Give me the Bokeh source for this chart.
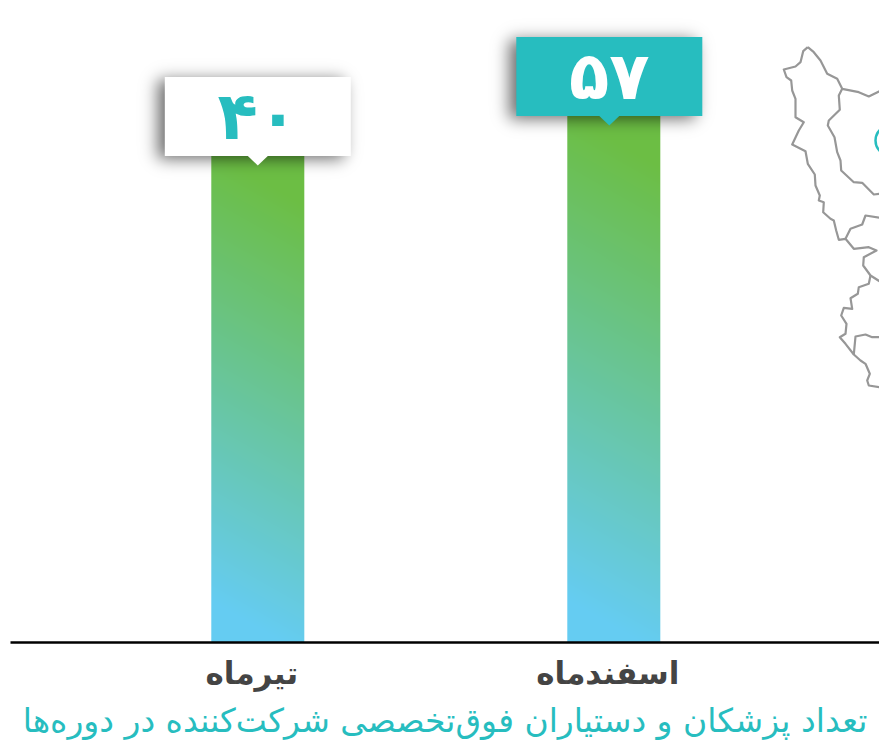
import numpy as np
from math import erf
from bokeh.plotting import figure
from bokeh.models import Range1d, FixedTicker, LinearAxis, Title
from bokeh.core.properties import value
from bokeh.embed import file_html
from bokeh.resources import INLINE

# data
periods = ["تیرماه", "اسفندماه"]
counts = [40, 57]
count_labels = ["۴۰", "۵۷"]
title_text = "تعداد پزشکان و دستیاران فوق‌تخصصی شرکت‌کننده در دوره‌ها"

# map outline, in the picture's own pixel coordinates
map_west_x = [807.3,802.7,800,795,783.3,786,790.7,791.7,795,795,803.3,798.3,791.7,805,807.3,814.3,815,819.3,818.3,823.3,822.7,830,833.3,835.7,838.3,845,853.3,868.3,876,863.3,862.7,870,879]
map_west_y = [46.7,50.7,61.7,66,69,76.7,80,90,98.3,116.7,121.7,130,144,150.7,163.3,174,185,195,200,201.7,211.7,218.3,220,230,239.3,238.3,248.3,246.7,250,256.7,265,275,280.7]
map_b1_x = [845,850,861.7,865,879]
map_b1_y = [238.3,228.3,224,215,217.3]
map_low_x = [870,868.3,858.3,857.3,850,851.7,843.3,840.7,846,845,839.3,845,853.3,860,865,869.3,866.7,868.3,879]
map_low_y = [275,283.3,286.7,293.3,297.7,308.3,307.3,315,323.3,333.3,336.7,343.3,354,360,363.3,373.3,380,385,386.7]
map_b2_x = [853.3,855,865,871.7,879]
map_b2_y = [354,336,334,336.7,336.7]
map_top_x = [807.3,813.3,820,826.7,836.7,841.7,858.3,868.3,879]
map_top_y = [46.7,51.7,60,73.3,78.3,88.3,91.7,96,90.7]
map_in_x = [841.7,838.3,839.3,828.3,827.3,834,836.7,840,840.7,853.3,861.7,873.3,879]
map_in_y = [88.3,95,109.3,120,125,136.7,151.7,160,170,181.7,182.3,194,193.3]

TEAL = "#27BDBF"
GREEN = np.array([108, 190, 68.0])
BLUE = np.array([101, 204, 242.0])

PX_X = 356.0
PX_Y = 40.0 / 17.0
LEFT, RIGHT, TOP, BOTTOM = 10, 879, 0, 642
y_top = 57 + (115.4 - TOP) / PX_Y
y_base = 40 - (BOTTOM - 155.4) / PX_Y
x0 = -(257.3 - LEFT) / PX_X
x1 = (RIGHT - 257.3) / PX_X

p = figure(width=879, height=744, output_backend="svg", toolbar_location=None,
           x_range=Range1d(x0, x1), y_range=Range1d(y_base, y_top),
           x_axis_location=None, y_axis_location=None,
           min_border_left=10, min_border_right=0, min_border_top=0, min_border_bottom=102,
           outline_line_color=None, background_fill_color="white", border_fill_color="white")
p.grid.visible = False
p.extra_x_ranges["px"] = Range1d(LEFT, RIGHT)
p.extra_y_ranges["px"] = Range1d(BOTTOM, TOP)

bar_w = 93 / PX_X
xs = np.arange(len(counts), dtype=float)
for xc, c in zip(xs, counts):
    h = int(round((c - y_base) * PX_Y))
    w = 93
    yy, xx = np.mgrid[0:h, 0:w]
    t = np.clip(((yy / h) + 0.10 * (xx / w - 0.5) * 526 / h - 0.03) / 0.92, 0, 1)
    img = np.zeros((h, w), dtype=np.uint32)
    v = img.view(dtype=np.uint8).reshape((h, w, 4))
    for k in range(3):
        v[:, :, k] = np.round(BLUE[k] + (GREEN[k] - BLUE[k]) * t)
    v[:, :, 3] = 255
    p.image_rgba(image=[img], x=xc - bar_w / 2, y=y_base, dw=bar_w, dh=c - y_base)

box_w = 186 / PX_X
box_h = 79 / PX_Y
tip_h = 9.5 / PX_Y
tip_w = 10 / PX_X
box_offset = [0.0, -4.5 / PX_X]
box_fill = ["white", TEAL]
text_fill = [TEAL, "white"]
vec_erf = np.vectorize(erf)


def shadow(cx, top):
    sig, pad = 8.0, 30
    W, H = 186 + 2 * pad, 79 + 2 * pad
    sx = np.arange(W) + 0.5 - pad
    sy = np.arange(H) + 0.5 - pad
    dx, dy = -7.0, -3.0
    ax = 0.5 * (vec_erf((sx - dx) / (sig * 2**.5)) - vec_erf((sx - dx - 186) / (sig * 2**.5)))
    ay = 0.5 * (vec_erf((sy - dy) / (sig * 2**.5)) - vec_erf((sy - dy - 79) / (sig * 2**.5)))
    a = np.outer(ay, ax) * 0.58
    img = np.zeros((H, W), dtype=np.uint32)
    v = img.view(dtype=np.uint8).reshape((H, W, 4))
    v[:, :, 3] = np.round(a * 255)
    p.image_rgba(image=[img], x=cx - box_w / 2 - pad / PX_X, y=top - pad / PX_Y,
                 dw=W / PX_X, dh=H / PX_Y)


for xc, c, off in zip(xs, counts, box_offset):
    shadow(xc + off, c)

for xc, c, off, fill, tf, lab in zip(xs, counts, box_offset, box_fill, text_fill, count_labels):
    cx = xc + off
    p.quad(left=cx - box_w / 2, right=cx + box_w / 2, bottom=c, top=c + box_h,
           fill_color=fill, line_color=None)
    p.patch([cx - tip_w, cx + tip_w, cx], [c + 0.01, c + 0.01, c - tip_h],
            fill_color=fill, line_color=None)
    p.text([cx], [c + box_h / 2], text=[lab], text_color=tf, text_font=value("DejaVu Sans"),
           text_font_style="bold", text_font_size="66px", text_align="center",
           text_baseline="middle")

for mx, my in [(map_west_x, map_west_y), (map_b1_x, map_b1_y), (map_low_x, map_low_y),
               (map_b2_x, map_b2_y), (map_top_x, map_top_y), (map_in_x, map_in_y)]:
    p.line(mx, my, x_range_name="px", y_range_name="px", line_color="#979797", line_width=2.2,
           line_join="round")
p.scatter([890], [140], x_range_name="px", y_range_name="px", size=30, fill_color=None,
          line_color=TEAL, line_width=2.5)

label_shift = -6 / PX_X
ax = LinearAxis(ticker=FixedTicker(ticks=[label_shift, 1 + label_shift]),
                major_label_overrides={label_shift: periods[0], 1 + label_shift: periods[1]})
ax.axis_line_color = "black"
ax.axis_line_width = 2.5
ax.major_tick_line_color = None
ax.minor_tick_line_color = None
ax.major_label_text_font = "DejaVu Sans"
ax.major_label_text_font_style = "bold"
ax.major_label_text_font_size = "31px"
ax.major_label_text_color = "#444444"
ax.major_label_standoff = 6
p.add_layout(ax, "below")

t = Title(text=title_text, align="center", text_color=TEAL, text_font="DejaVu Sans",
          text_font_style="normal", text_font_size="33px", standoff=10)
p.add_layout(t, "below")

open("out.html", "w").write(file_html(p, INLINE))
